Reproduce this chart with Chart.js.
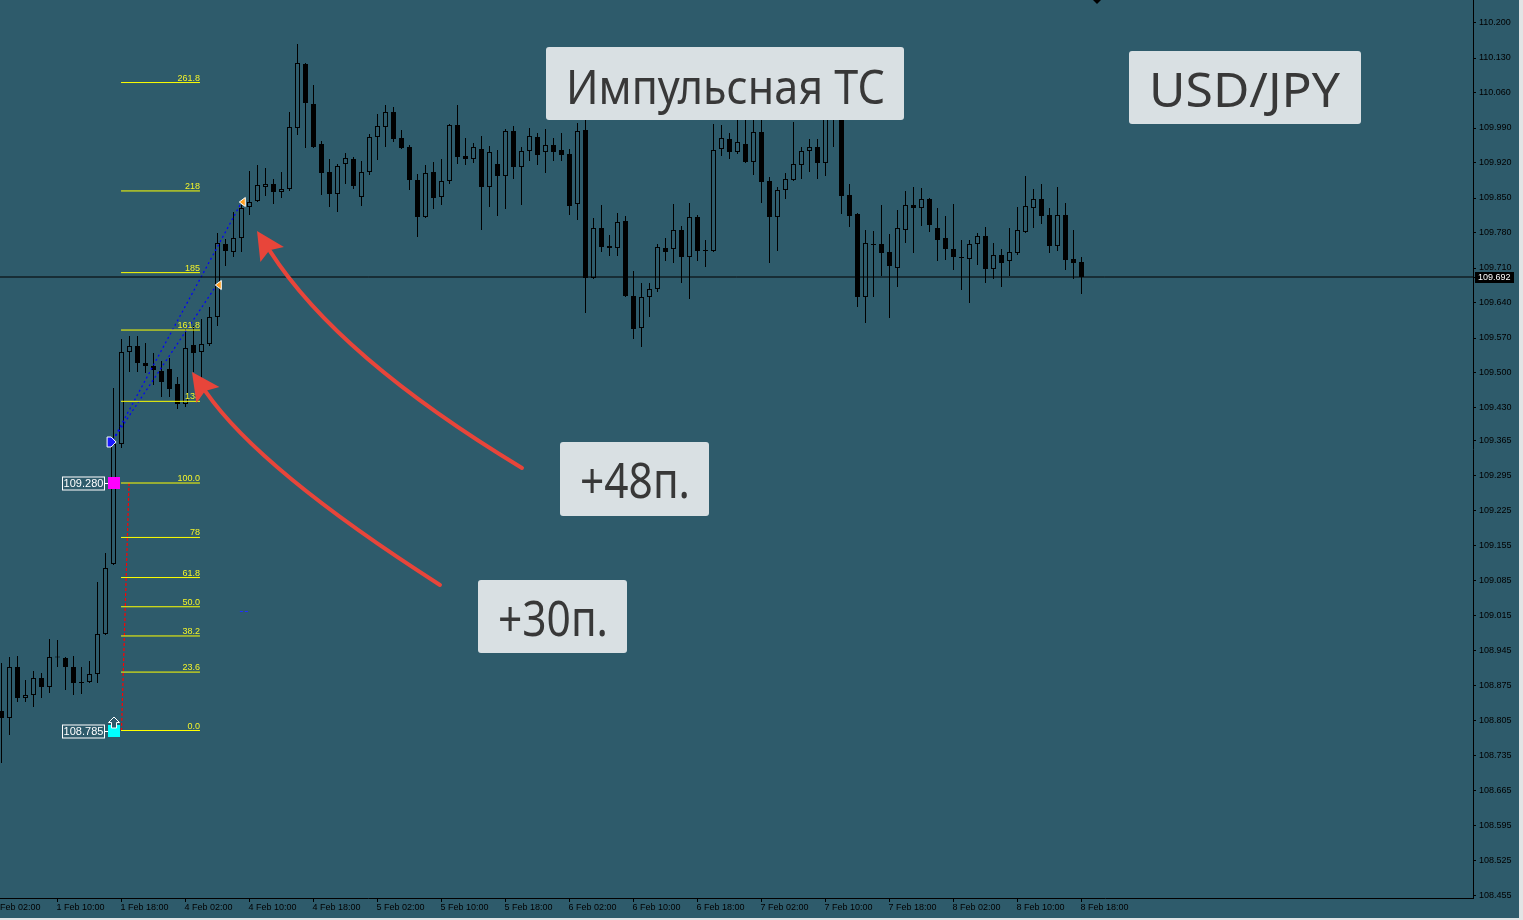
<!DOCTYPE html>
<html>
<head>
<meta charset="utf-8">
<script src="https://cdn.jsdelivr.net/npm/chart.js@4.4.1/dist/chart.umd.min.js"></script>
<style>
  html, body { margin: 0; padding: 0; background: #2e5b6b; }
  #wrap { width: 1523px; height: 920px; position: relative; }
</style>
</head>
<body>
<div id="wrap"><canvas id="chart"></canvas></div>
<script>
// USD/JPY H1, 1 Feb 03:00 .. 8 Feb 18:00
const opens = [108.824,108.810,108.912,108.850,108.856,108.890,108.872,108.932,108.930,108.912,
  108.882,108.882,108.898,108.978,109.118,109.358,109.542,109.554,109.520,109.514,
  109.504,109.508,109.478,109.438,109.556,109.542,109.558,109.612,109.758,109.742,
  109.770,109.832,109.844,109.872,109.878,109.862,109.868,109.990,110.118,110.038,
  109.958,109.902,109.858,109.918,109.928,109.852,109.902,109.972,109.992,110.022,
  109.970,109.952,109.886,109.812,109.902,109.852,109.884,109.996,109.934,109.928,
  109.948,109.872,109.918,109.894,109.984,109.912,109.944,109.972,109.942,109.956,
  109.946,109.938,109.838,109.986,109.690,109.790,109.754,109.750,109.804,109.654,
  109.590,109.652,109.668,109.750,109.748,109.786,109.732,109.812,109.746,109.744,
  109.948,109.968,109.942,109.958,109.922,109.982,109.884,109.812,109.866,109.886,
  109.916,109.944,109.952,109.920,110.016,110.006,109.856,109.818,109.652,109.758,
  109.758,109.742,109.710,109.786,109.836,109.830,109.848,109.790,109.770,109.748,
  109.732,109.728,109.758,109.774,109.708,109.736,109.724,109.740,109.782,109.830,
  109.848,109.816,109.754,109.816,109.728,109.722];
const highs = [108.920,108.932,108.934,108.886,108.904,108.900,108.968,108.966,108.932,108.934,
  108.912,108.924,109.082,109.140,109.470,109.568,109.574,109.574,109.560,109.540,
  109.524,109.530,109.492,109.588,109.594,109.608,109.632,109.780,109.768,109.822,
  109.836,109.904,109.916,109.910,109.888,109.902,110.022,110.158,110.120,110.076,
  109.964,109.928,109.918,109.940,109.932,109.924,109.978,110.018,110.036,110.032,
  109.986,109.956,109.898,109.916,109.922,109.928,109.998,110.036,109.970,109.960,
  109.974,109.954,109.946,109.988,109.994,109.952,109.990,109.980,109.988,109.970,
  109.980,109.948,110.000,110.056,109.810,109.836,109.776,109.820,109.814,109.704,
  109.680,109.680,109.758,109.770,109.838,109.794,109.840,109.816,109.766,109.998,
  109.996,109.980,110.038,110.014,110.032,110.032,109.892,109.872,109.900,110.002,
  109.952,109.968,109.968,110.030,110.036,110.012,109.878,109.820,109.786,109.784,
  109.836,109.778,109.826,109.864,109.872,109.870,109.850,109.830,109.814,109.838,
  109.766,109.766,109.780,109.792,109.760,109.748,109.790,109.832,109.894,109.868,
  109.878,109.830,109.872,109.840,109.786,109.732];
const lows = [108.720,108.776,108.842,108.842,108.832,108.850,108.860,108.912,108.866,108.856,
  108.858,108.880,108.880,108.976,109.116,109.350,109.502,109.502,109.500,109.476,
  109.452,109.452,109.428,109.432,109.502,109.486,109.554,109.594,109.714,109.732,
  109.742,109.816,109.842,109.854,109.838,109.850,109.864,109.976,109.950,109.950,
  109.856,109.832,109.822,109.878,109.868,109.834,109.896,109.926,109.952,109.962,
  109.948,109.866,109.772,109.810,109.828,109.836,109.878,109.918,109.916,109.920,
  109.786,109.832,109.814,109.828,109.888,109.836,109.924,109.916,109.900,109.924,
  109.924,109.816,109.806,109.620,109.688,109.742,109.734,109.734,109.652,109.568,
  109.552,109.612,109.662,109.724,109.720,109.680,109.648,109.724,109.712,109.742,
  109.934,109.928,109.938,109.920,109.896,109.840,109.720,109.744,109.848,109.884,
  109.888,109.902,109.888,109.894,109.952,109.818,109.792,109.632,109.600,109.652,
  109.694,109.610,109.672,109.760,109.740,109.794,109.782,109.724,109.726,109.706,
  109.666,109.640,109.716,109.680,109.688,109.672,109.694,109.736,109.780,109.790,
  109.798,109.740,109.744,109.706,109.688,109.658];
const closes = [108.810,108.912,108.850,108.856,108.890,108.872,108.932,108.931,108.912,108.880,
  108.880,108.898,108.978,109.110,109.358,109.542,109.554,109.520,109.514,109.506,
  109.482,109.468,109.438,109.550,109.540,109.558,109.612,109.760,109.744,109.770,
  109.830,109.842,109.876,109.878,109.862,109.868,109.992,110.120,110.040,109.952,
  109.900,109.858,109.914,109.930,109.874,109.902,109.972,109.994,110.022,109.968,
  109.950,109.886,109.812,109.900,109.850,109.884,109.996,109.932,109.928,109.952,
  109.872,109.942,109.894,109.984,109.912,109.944,109.974,109.936,109.956,109.942,
  109.936,109.834,109.984,109.690,109.790,109.752,109.750,109.802,109.654,109.588,
  109.652,109.668,109.752,109.742,109.786,109.732,109.812,109.744,109.744,109.946,
  109.970,109.942,109.962,109.922,109.982,109.882,109.812,109.866,109.888,109.918,
  109.944,109.952,109.920,110.016,110.008,109.854,109.814,109.652,109.760,109.756,
  109.740,109.714,109.790,109.836,109.830,109.848,109.796,109.766,109.748,109.732,
  109.730,109.758,109.774,109.708,109.736,109.720,109.742,109.786,109.834,109.848,
  109.814,109.754,109.816,109.726,109.720,109.692];

// one time label every 8 bars, first one sits one bar before the first candle
const xTickLabels = ['1 Feb 02:00','1 Feb 10:00','1 Feb 18:00','4 Feb 02:00','4 Feb 10:00','4 Feb 18:00',
  '5 Feb 02:00','5 Feb 10:00','5 Feb 18:00','6 Feb 02:00','6 Feb 10:00','6 Feb 18:00',
  '7 Feb 02:00','7 Feb 10:00','7 Feb 18:00','8 Feb 02:00','8 Feb 10:00','8 Feb 18:00'];
const yTickValues = [110.200,110.130,110.060,109.990,109.920,109.850,109.780,109.710,109.640,109.570,
  109.500,109.430,109.365,109.295,109.225,109.155,109.085,109.015,108.945,108.875,
  108.805,108.735,108.665,108.595,108.525,108.455];

const lastPrice = 109.692;
const fibLow = 108.785;
const fibHigh = 109.280;
const fibLevels = [0, 23.6, 38.2, 50, 61.8, 78, 100, 133, 161.8, 185, 218, 261.8];
const fibLabels = ['0.0','23.6','38.2','50.0','61.8','78','100.0','133','161.8','185','218','261.8'];

const bg = '#2e5b6b';
const xMin = -0.1875, xMax = 183.9375;
const yMin = 108.450, yMax = 110.246;
const fibX0 = 14.94, fibX1 = 24.81;

const bodies = opens.map((o, i) => ({ x: i, y: [o, closes[i]] }));
const wicks = opens.map((o, i) => ({ x: i, y: [lows[i], highs[i]] }));
const bodyFill = opens.map((o, i) => closes[i] >= o ? bg : '#000');

const fibSets = fibLevels.map(lv => {
  const p = fibLow + (fibHigh - fibLow) * lv / 100;
  return { type: 'line', data: [{ x: fibX0, y: p }, { x: fibX1, y: p }],
    borderColor: '#ffff00', borderWidth: 1, pointRadius: 0, order: 0 };
});

function px(chart, v) { return chart.scales.x.getPixelForValue(v); }
function py(chart, v) { return chart.scales.y.getPixelForValue(v); }

function curvedArrow(chart, ctx, a) {
  const p0 = [px(chart, a[0]), py(chart, a[1])];
  const p1 = [px(chart, a[2]), py(chart, a[3])];
  const p2 = [px(chart, a[4]), py(chart, a[5])];
  const dx = p2[0] - p1[0], dy = p2[1] - p1[1];
  const len = Math.hypot(dx, dy), ux = dx / len, uy = dy / len;
  const hl = 28, hw = 14;
  const bx = p2[0] - ux * hl, by = p2[1] - uy * hl;
  ctx.strokeStyle = '#e8453a';
  ctx.fillStyle = '#e8453a';
  ctx.lineWidth = 4;
  ctx.lineCap = 'round';
  ctx.beginPath();
  ctx.moveTo(p0[0], p0[1]);
  ctx.quadraticCurveTo(p1[0], p1[1], bx + ux * 4, by + uy * 4);
  ctx.stroke();
  ctx.beginPath();
  ctx.moveTo(p2[0], p2[1]);
  ctx.lineTo(bx - uy * hw, by + ux * hw);
  ctx.lineTo(bx + ux * 5, by + uy * 5);
  ctx.lineTo(bx + uy * hw, by - ux * hw);
  ctx.closePath();
  ctx.fill();
}

function textBox(ctx, x0, y0, x1, y1, text, tx0, tx1, size, base) {
  ctx.fillStyle = '#d9e0e3';
  ctx.beginPath();
  if (ctx.roundRect) ctx.roundRect(x0, y0, x1 - x0, y1 - y0, 3); else ctx.rect(x0, y0, x1 - x0, y1 - y0);
  ctx.fill();
  ctx.font = size + 'px "Noto Sans"';
  const w = ctx.measureText(text).width;
  ctx.save();
  ctx.translate(tx0, base);
  ctx.scale((tx1 - tx0) / w, 1);
  ctx.fillStyle = '#383838';
  ctx.textAlign = 'left';
  ctx.textBaseline = 'alphabetic';
  ctx.fillText(text, 0, 0);
  ctx.restore();
}

function priceTag(ctx, cx, cy, text, color) {
  ctx.strokeStyle = '#fff';
  ctx.lineWidth = 1;
  ctx.beginPath();
  ctx.moveTo(cx - 10, cy + 0.5);
  ctx.lineTo(cx, cy + 0.5);
  ctx.stroke();
  ctx.strokeRect(cx - 51.5, cy - 6, 42, 13);
  ctx.fillStyle = '#fff';
  ctx.font = '11px "Liberation Sans"';
  ctx.textAlign = 'center';
  ctx.textBaseline = 'middle';
  ctx.fillText(text, cx - 30.5, cy + 1);
  ctx.fillStyle = color;
  ctx.fillRect(cx - 6, cy - 6, 12, 12);
}

const overlay = {
  id: 'overlay',
  beforeDraw(chart) {
    const ctx = chart.ctx;
    ctx.save();
    ctx.fillStyle = bg;
    ctx.fillRect(0, 0, chart.width, chart.height);
    ctx.restore();
  },
  afterDatasetsDraw(chart) {
    const ctx = chart.ctx;
    ctx.save();

    // fibo labels
    ctx.font = '9px "Liberation Sans"';
    ctx.fillStyle = '#f4f42a';
    ctx.textAlign = 'right';
    ctx.textBaseline = 'alphabetic';
    fibLevels.forEach((lv, i) => {
      const p = fibLow + (fibHigh - fibLow) * lv / 100;
      ctx.fillText(fibLabels[i], px(chart, fibX1), py(chart, p) - 2);
    });

    // swing points
    const cx = Math.round(px(chart, 14)) + 0.5;
    priceTag(ctx, cx - 0.5, Math.round(py(chart, fibHigh)), fibHigh.toFixed(3), '#ff00ff');
    priceTag(ctx, cx - 0.5, Math.round(py(chart, fibLow)), fibLow.toFixed(3), '#00ffff');

    // hollow up arrow above the low
    const ay = Math.round(py(chart, fibLow)) - 14;
    ctx.strokeStyle = '#fff';
    ctx.fillStyle = bg;
    ctx.beginPath();
    ctx.moveTo(cx - 0.5, ay);
    ctx.lineTo(cx + 5, ay + 5.5);
    ctx.lineTo(cx + 2, ay + 5.5);
    ctx.lineTo(cx + 2, ay + 11);
    ctx.lineTo(cx - 3, ay + 11);
    ctx.lineTo(cx - 3, ay + 5.5);
    ctx.lineTo(cx - 6, ay + 5.5);
    ctx.closePath();
    ctx.fill();
    ctx.stroke();

    // blue entry mark
    const ex = px(chart, 13.7), ey = py(chart, 109.362);
    ctx.fillStyle = '#1a1aff';
    ctx.strokeStyle = '#fff';
    ctx.beginPath();
    ctx.moveTo(ex - 4, ey - 5);
    ctx.lineTo(ex, ey - 5);
    ctx.lineTo(ex + 5, ey);
    ctx.lineTo(ex, ey + 5);
    ctx.lineTo(ex - 4, ey + 5);
    ctx.closePath();
    ctx.fill();
    ctx.stroke();

    // orange target marks
    [[30.1, 109.842], [27.1, 109.676]].forEach(t => {
      const tx = px(chart, t[0]), ty = py(chart, t[1]);
      ctx.fillStyle = '#ffa020';
      ctx.strokeStyle = '#fff';
      ctx.beginPath();
      ctx.moveTo(tx - 3, ty);
      ctx.lineTo(tx + 3, ty - 4.5);
      ctx.lineTo(tx + 3, ty + 4.5);
      ctx.closePath();
      ctx.fill();
      ctx.stroke();
    });

    // small blue dashes
    const dy = Math.round(py(chart, 109.024)) + 0.5, dx = px(chart, 29.8);
    ctx.strokeStyle = '#2030ff';
    ctx.beginPath();
    ctx.moveTo(dx, dy); ctx.lineTo(dx + 3, dy);
    ctx.moveTo(dx + 5, dy); ctx.lineTo(dx + 8, dy);
    ctx.stroke();

    // red arrows: start, control, tip (bar index, price)
    curvedArrow(chart, ctx, [65.06, 109.310, 42.06, 109.532, 31.94, 109.784]);
    curvedArrow(chart, ctx, [54.81, 109.076, 32.31, 109.306, 23.81, 109.502]);

    // captions
    textBox(ctx, 546, 47, 904, 120, 'Импульсная ТС', 566, 885, 48, 104);
    textBox(ctx, 1129, 51, 1361, 124, 'USD/JPY', 1149, 1340, 48, 107);
    textBox(ctx, 560, 442, 709, 516, '+48п.', 580, 690, 50, 498);
    textBox(ctx, 478, 580, 627, 653, '+30п.', 498, 608, 50, 636);

    ctx.restore();
  },
  afterDraw(chart) {
    const ctx = chart.ctx;
    const area = chart.chartArea;
    ctx.save();
    // current price tag on the axis
    const ly = Math.round(py(chart, lastPrice));
    ctx.fillStyle = '#000';
    ctx.fillRect(area.right, ly, 3, 1);
    ctx.fillRect(area.right + 2, ly - 5, 39, 11);
    ctx.fillStyle = '#fff';
    ctx.font = '9px "Liberation Sans"';
    ctx.textAlign = 'left';
    ctx.textBaseline = 'middle';
    ctx.fillText(lastPrice.toFixed(3), area.right + 5, ly + 1);
    // small mark at the top
    ctx.fillStyle = '#000';
    ctx.beginPath();
    ctx.moveTo(1093, 0); ctx.lineTo(1101, 0); ctx.lineTo(1097, 4);
    ctx.closePath();
    ctx.fill();
    // window frame
    ctx.fillStyle = '#e2e4e5';
    ctx.fillRect(chart.width - 4, 0, 4, chart.height);
    ctx.fillRect(0, chart.height - 2, chart.width, 2);
    ctx.restore();
  }
};

const axisFont = { family: 'Liberation Sans', size: 9 };

new Chart(document.getElementById('chart'), {
  type: 'bar',
  data: {
    datasets: [
      { type: 'bar', label: 'body', data: bodies, backgroundColor: bodyFill, borderColor: '#000',
        borderWidth: 1, borderSkipped: false, barThickness: 5, minBarLength: 1, grouped: false,
        inflateAmount: 0, order: 1 },
      { type: 'bar', label: 'wick', data: wicks, backgroundColor: '#000', borderWidth: 0,
        barThickness: 1, grouped: false, inflateAmount: 0, order: 2 },
      { type: 'line', data: [{ x: xMin, y: lastPrice }, { x: xMax, y: lastPrice }],
        borderColor: '#000', borderWidth: 1, pointRadius: 0, order: 0 },
      ...fibSets,
      { type: 'line', data: [{ x: 13.94, y: 109.366 }, { x: 30.02, y: 109.842 }],
        borderColor: '#0000ff', borderWidth: 1.2, borderDash: [2, 3], pointRadius: 0, order: 0 },
      { type: 'line', data: [{ x: 13.94, y: 109.366 }, { x: 26.9, y: 109.676 }],
        borderColor: '#0000ff', borderWidth: 1.2, borderDash: [2, 3], pointRadius: 0, order: 0 },
      { type: 'line', data: [{ x: 15.94, y: fibHigh }, { x: 15.0, y: fibLow }],
        borderColor: '#ff0000', borderWidth: 1.2, borderDash: [3, 2], pointRadius: 0, order: 0 }
    ]
  },
  options: {
    responsive: true,
    maintainAspectRatio: false,
    animation: false,
    events: [],
    layout: { padding: 0 },
    plugins: { legend: { display: false }, tooltip: { enabled: false } },
    scales: {
      x: {
        type: 'linear', min: xMin, max: xMax, offset: false,
        afterBuildTicks: s => { s.ticks = xTickLabels.map((_, i) => ({ value: -1 + 8 * i })); },
        afterFit: s => { s.height = 22; s.paddingLeft = 0; s.paddingRight = 0; },
        grid: { display: true, drawOnChartArea: false, drawTicks: true, tickLength: 4, color: '#000', offset: false },
        border: { display: true, color: '#000', width: 1 },
        ticks: { autoSkip: false, maxRotation: 0, minRotation: 0, align: 'start', labelOffset: -1, padding: 0,
          color: '#000', font: axisFont, callback: (v, i) => xTickLabels[i] }
      },
      y: {
        position: 'right', min: yMin, max: yMax,
        afterBuildTicks: s => { s.ticks = yTickValues.map(v => ({ value: v })); },
        afterFit: s => { s.width = 50; s.paddingTop = 0; s.paddingBottom = 0; },
        grid: { display: true, drawOnChartArea: false, drawTicks: true, tickLength: 3, color: '#000' },
        border: { display: true, color: '#000', width: 1 },
        ticks: { autoSkip: false, padding: 3, color: '#000', font: axisFont, callback: v => v.toFixed(3) }
      }
    }
  },
  plugins: [overlay]
});
</script>
</body>
</html>
